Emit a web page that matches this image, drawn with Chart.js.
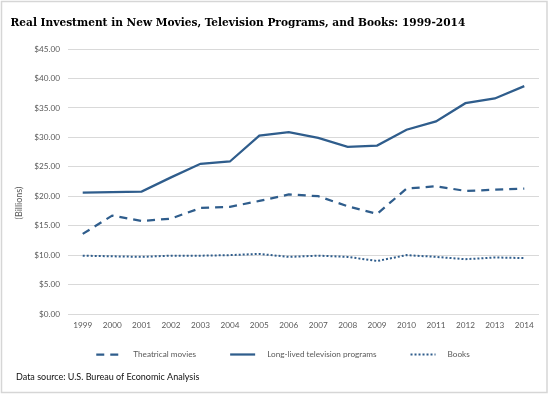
<!DOCTYPE html>
<html>
<head>
<meta charset="utf-8">
<script src="https://cdn.jsdelivr.net/npm/chart.js@4"></script>
<style>
  html, body { margin: 0; padding: 0; background: #fff; }
  #wrap { width: 554px; height: 394px; position: relative; }
</style>
</head>
<body>
<div id="wrap"><canvas id="c" width="554" height="394"></canvas></div>
<script>
const years = ['1999','2000','2001','2002','2003','2004','2005','2006','2007','2008','2009','2010','2011','2012','2013','2014'];
const theatricalMovies = [13.6, 16.7, 15.8, 16.2, 18.0, 18.2, 19.2, 20.3, 20.0, 18.3, 17.0, 21.3, 21.7, 20.9, 21.1, 21.3];
const televisionPrograms = [20.6, 20.7, 20.8, 23.2, 25.5, 25.9, 30.3, 30.9, 29.9, 28.4, 28.6, 31.3, 32.7, 35.8, 36.6, 38.7];
const books = [9.9, 9.8, 9.7, 9.9, 9.9, 10.0, 10.2, 9.7, 9.9, 9.7, 9.0, 10.0, 9.7, 9.3, 9.6, 9.5];
const seriesNames = ['Theatrical movies', 'Long-lived television programs', 'Books'];
const yTicks = [0, 5, 10, 15, 20, 25, 30, 35, 40, 45];
const titleText = 'Real Investment in New Movies, Television Programs, and Books: 1999-2014';
const yTitleText = '(Billions)';
const sourceText = 'Data source: U.S. Bureau of Economic Analysis';

const lineColor = '#2f5d8c';
const textGray = '#595959';
const sansFont = 'Lato, "Open Sans", sans-serif';

const decorPlugin = {
  id: 'decor',
  beforeDraw(chart) {
    const ctx = chart.ctx;
    ctx.save();
    ctx.fillStyle = '#ffffff';
    ctx.fillRect(0, 0, chart.width, chart.height);
    ctx.strokeStyle = '#d6d6d6';
    ctx.lineWidth = 1.5;
    ctx.strokeRect(1.5, 1.5, 545.5, 391);
    ctx.restore();
  },
  afterDraw(chart) {
    const ctx = chart.ctx;
    ctx.save();
    // Title (fit to reference width)
    let size = 14;
    const fam = '"DejaVu Serif Condensed", "Liberation Serif", serif';
    ctx.font = 'bold ' + size + 'px ' + fam;
    const w = ctx.measureText(titleText).width;
    size = size * 455 / w;
    ctx.font = 'bold ' + size.toFixed(2) + 'px ' + fam;
    ctx.fillStyle = '#000000';
    ctx.textBaseline = 'alphabetic';
    ctx.textAlign = 'left';
    ctx.fillText(titleText, 10.5, 26);

    // Y axis title
    ctx.save();
    ctx.translate(19, 203);
    ctx.rotate(-Math.PI / 2);
    ctx.font = '9px ' + sansFont;
    ctx.fillStyle = textGray;
    ctx.textAlign = 'center';
    ctx.textBaseline = 'middle';
    ctx.fillText(yTitleText, 0, 0);
    ctx.restore();

    // Legend
    ctx.font = '8.2px ' + sansFont;
    const sampleW = 25, gap = 12, spacing = 34;
    const items = chart.data.datasets.map(ds => ({
      ds, tw: ctx.measureText(ds.label).width
    }));
    let total = 0;
    items.forEach((it, i) => { total += sampleW + gap + it.tw + (i < items.length - 1 ? spacing : 0); });
    let x = 283 - total / 2;
    const ly = 354.5;
    items.forEach(it => {
      ctx.save();
      ctx.strokeStyle = it.ds.borderColor;
      ctx.lineWidth = it.ds.borderWidth;
      ctx.setLineDash(it.ds.borderDash || []);
      ctx.beginPath();
      ctx.moveTo(x, ly);
      ctx.lineTo(x + sampleW, ly);
      ctx.stroke();
      ctx.restore();
      ctx.fillStyle = textGray;
      ctx.textAlign = 'left';
      ctx.textBaseline = 'middle';
      ctx.fillText(it.ds.label, x + sampleW + gap, ly);
      x += sampleW + gap + it.tw + spacing;
    });

    // Source note
    ctx.font = '9px ' + sansFont;
    ctx.fillStyle = '#111111';
    ctx.textBaseline = 'middle';
    ctx.fillText(sourceText, 16, 377.5);
    ctx.restore();
  }
};

new Chart(document.getElementById('c'), {
  type: 'line',
  data: {
    labels: years,
    datasets: [
      { label: seriesNames[0], data: theatricalMovies, borderColor: lineColor, backgroundColor: lineColor, borderWidth: 2.25, borderDash: [8, 6], pointRadius: 0, tension: 0, fill: false },
      { label: seriesNames[1], data: televisionPrograms, borderColor: lineColor, backgroundColor: lineColor, borderWidth: 2.25, pointRadius: 0, tension: 0, fill: false },
      { label: seriesNames[2], data: books, borderColor: lineColor, backgroundColor: lineColor, borderWidth: 2, borderDash: [2, 2], pointRadius: 0, tension: 0, fill: false }
    ]
  },
  options: {
    responsive: false,
    animation: false,
    devicePixelRatio: 1,
    layout: { padding: { left: 0, right: 15, top: 49, bottom: 60 } },
    plugins: {
      legend: { display: false },
      title: { display: false },
      tooltip: { enabled: false }
    },
    scales: {
      x: {
        type: 'category',
        offset: true,
        grid: { display: false, drawTicks: false },
        border: { display: false },
        ticks: { color: textGray, font: { family: sansFont, size: 8.2 }, padding: 6, maxRotation: 0, autoSkip: false },
        afterFit(scale) { scale.height = 20; }
      },
      y: {
        min: 0,
        max: 45,
        afterBuildTicks(scale) { scale.ticks = yTicks.map(v => ({ value: v })); },
        grid: { color: '#d9d9d9', lineWidth: 1, drawTicks: false },
        border: { display: false },
        ticks: {
          color: textGray,
          font: { family: sansFont, size: 8.2 },
          padding: 8,
          callback: v => '$' + Number(v).toFixed(2)
        },
        afterFit(scale) { scale.width = 68; }
      }
    }
  },
  plugins: [decorPlugin]
});
</script>
</body>
</html>
